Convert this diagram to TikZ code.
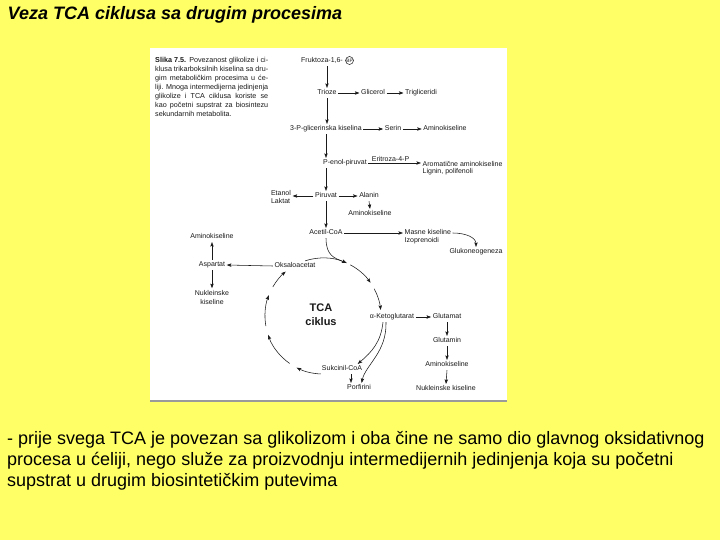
\documentclass[tikz,border=0pt]{standalone}
\usepackage{fontspec}
\setmainfont{Liberation Sans}
\usetikzlibrary{arrows.meta}
\definecolor{SlideYellow}{HTML}{FFFF66}
\definecolor{ScanGray}{HTML}{9A9A9A}
\definecolor{InkBlack}{HTML}{1A1A1A}

\begin{document}
\begin{tikzpicture}[x=1pt, y=1pt,
  every node/.style={font=\fontsize{7}{7.4}\selectfont, text=InkBlack, inner sep=1.5pt},
  metab/.style={text height=5.2pt, text depth=1.5pt},
  twoline/.style={align=left},
  flow/.style={-{Stealth[length=4.6pt,width=3.4pt,inset=1pt]}, line width=0.55pt, draw=InkBlack}]

  % slide and scanned page
  \fill[SlideYellow] (0,0) rectangle (720,-540);
  \fill[white] (150,-48) rectangle (507,-402);
  \draw[ScanGray, line width=1.4pt] (150,-401) -- (507,-401);
  \useasboundingbox (0,0) rectangle (720,-540);

  \node[anchor=west, font=\fontsize{18}{20}\selectfont\bfseries\itshape, text=black] (naslov) at (6,-15) {Veza TCA ciklusa sa drugim procesima};

  \node[anchor=north west, inner sep=0pt, text width=113pt, align=justify, font=\fontsize{7.2}{8.9}\selectfont] (slika) at (155,-57.5)
    {\textbf{Slika 7.5.} Povezanost glikolize i ci-\linebreak klusa trikarboksilnih kiselina sa dru-\linebreak gim metaboličkim procesima u će-\linebreak liji. Mnoga intermedijerna jedinjenja\linebreak glikolize i TCA ciklusa koriste se\linebreak kao početni supstrat za biosintezu\linebreak sekundarnih metabolita.};

  % glikoliza
  \node[metab] (fruk) at (322,-61) {Fruktoza-1,6-};
  \node[circle, draw=InkBlack, line width=0.5pt, inner sep=0pt, minimum size=8pt, font=\fontsize{4.8}{5}\selectfont] (bp) at (349.5,-60.5) {BP};
  \node[metab] (trioze) at (327,-93) {Trioze};
  \node[metab] (glicerol) at (373,-93) {Glicerol};
  \node[metab] (trigl) at (421,-93) {Trigliceridi};
  \node[metab] (pgk) at (326,-129) {3-P-glicerinska kiselina};
  \node[metab] (serin) at (393,-129) {Serin};
  \node[metab] (amino1) at (445,-129) {Aminokiseline};
  \node[metab] (pep) at (345,-163) {P-enol-piruvat};
  \node[twoline, anchor=west] (arom) at (421,-168) {Aromatične aminokiseline\\Lignin, polifenoli};
  \node[metab] (piruvat) at (326,-196) {Piruvat};
  \node[twoline] (etanol) at (281,-197) {Etanol\\Laktat};
  \node[metab] (alanin) at (369,-196) {Alanin};
  \node[metab] (amino2) at (370,-214) {Aminokiseline};
  \node[metab] (acetil) at (326,-233) {Acetil-CoA};
  \node[twoline, anchor=west, font=\fontsize{7}{8}\selectfont] (masne) at (403,-237) {Masne kiseline\\Izoprenoidi};
  \node[metab] (gluko) at (476,-252) {Glukoneogeneza};

  % TCA ciklus
  \coordinate (tcac) at (323,-316);
  \node[align=center, font=\fontsize{11}{14}\selectfont\bfseries] (tca) at (321,-315) {TCA\\ciklus};
  \node[metab] (oksalo) at (295,-266) {Oksaloacetat};
  \node[metab] (aketo) at (392,-317) {α-Ketoglutarat};
  \node[metab] (sukcinil) at (342,-369) {Sukcinil-CoA};
  \node[metab] (porfirini) at (359,-388) {Porfirini};
  \node[metab] (aspartat) at (212,-265) {Aspartat};
  \node[metab] (aminoL) at (212,-237) {Aminokiseline};
  \node[align=center, font=\fontsize{7}{9}\selectfont] (nukL) at (212,-297) {Nukleinske\\kiseline};
  \node[metab] (glutamat) at (447,-317) {Glutamat};
  \node[metab] (glutamin) at (447,-341) {Glutamin};
  \node[metab] (amino3) at (447,-365) {Aminokiseline};
  \node[metab] (nukR) at (446,-389) {Nukleinske kiseline};
  \coordinate (kond) at ([shift={(66:58)}]tcac);

  % strelice glikolize
  \draw[flow] (trioze |- fruk.south) -- (trioze.north);
  \draw[flow] (trioze.east) -- (glicerol.west);
  \draw[flow] (glicerol.east) -- (trigl.west);
  \draw[flow] (trioze.south) -- (trioze.south |- pgk.north);
  \draw[flow] (pgk.east) -- (serin.west);
  \draw[flow] (serin.east) -- (amino1.west);
  \draw[flow] (pgk.south) -- (pgk.south |- pep.north);
  \draw[flow] (pep.east) -- (pep.east -| arom.west) node[above, pos=0.42, inner sep=1pt] {Eritroza-4-P};
  \draw[flow] (piruvat |- pep.south) -- (piruvat.north);
  \draw[flow] (piruvat.west) -- (piruvat.west -| etanol.east);
  \draw[flow] (piruvat.east) -- (alanin.west);
  \draw[flow] (alanin.south) -- (amino2.north);
  \draw[flow] (piruvat.south) -- (acetil.north);
  \draw[flow] (acetil.east) -- (acetil.east -| masne.west);
  \draw[flow] ([yshift=4pt]masne.east) .. controls +(14,0) and +(0,9) .. (gluko.north);

  % ciklus
  \foreach \a/\b in {108/66, 62/35, 28/6, -92/-117, -125/-161, -170/-201, 150/130}
    \draw[flow] ([shift={(\a:58)}]tcac) arc[start angle=\a, end angle=\b, radius=58pt];
  \draw[flow] (acetil.south) .. controls +(0,-18) and +(-12,5) .. (kond);
  \draw[flow] ([xshift=-9pt]aketo.south) .. controls +(-2,-20) and +(14,12) .. ([xshift=-6pt]sukcinil.north east);
  \draw[flow] ([xshift=-6pt]aketo.south) .. controls +(1,-30) and +(4,18) .. ([xshift=-11pt]porfirini.north east);
  \draw[flow] ([xshift=-8pt]porfirini.north |- sukcinil.south) -- ([xshift=-8pt]porfirini.north);
  \draw[flow] (oksalo.west) -- (aspartat.east);
  \draw[flow] (aspartat.north) -- (aminoL.south);
  \draw[flow] (aspartat.south) -- (nukL.north);
  \draw[flow] (aketo.east) -- (glutamat.west);
  \draw[flow] (glutamat.south) -- (glutamin.north);
  \draw[flow] (glutamin.south) -- (amino3.north);
  \draw[flow] (amino3.south) -- (nukR.north);

  \node[anchor=north west, inner sep=0pt, align=left, font=\fontsize{18}{21}\selectfont, text=black] (opis) at (7,-431)
    {- prije svega TCA je povezan sa glikolizom i oba čine ne samo dio glavnog oksidativnog\\procesa u ćeliji, nego služe za proizvodnju intermedijernih jedinjenja koja su početni\\supstrat u drugim biosintetičkim putevima};
\end{tikzpicture}
\end{document}
